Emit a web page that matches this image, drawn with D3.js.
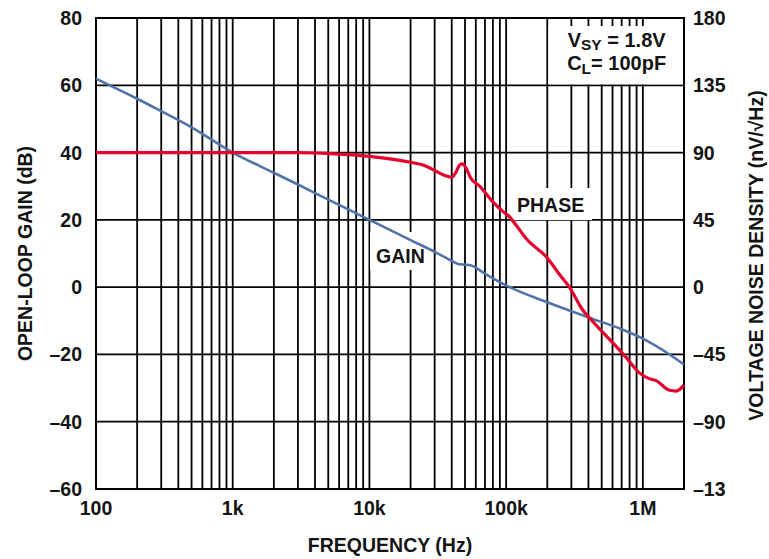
<!DOCTYPE html>
<html>
<head>
<meta charset="utf-8">
<script src="https://cdn.jsdelivr.net/npm/d3@7"></script>
<style>
  html, body { margin: 0; padding: 0; background: #fff; }
  svg { display: block; }
  text { font-family: "Liberation Sans", Arial, sans-serif; font-weight: bold; fill: #141414; }
</style>
</head>
<body>
<script>
// ---- data ----
const freqTicks = [100, 1e3, 1e4, 1e5, 1e6];
const freqTickLabels = ["100", "1k", "10k", "100k", "1M"];
const gainTicks = [80, 60, 40, 20, 0, -20, -40, -60];
const gainTickLabels = ["80", "60", "40", "20", "0", "–20", "–40", "–60"];
const phaseTicks = [180, 135, 90, 45, 0, -45, -90, -135];
const phaseTickLabels = ["180", "135", "90", "45", "0", "–45", "–90", "–13"];

const gainFreq = [100, 150, 200, 300, 500, 1e3, 2e3, 3e3, 5e3, 1e4, 2e4, 3e4, 4e4, 4.5e4, 5e4, 5.5e4, 7e4, 1e5, 2e5, 4e5, 7e5, 1e6, 1.5e6, 2e6];
const gainDb   = [62, 58.5, 56, 52.3, 47.5, 40, 34, 30.5, 26, 20, 14, 10.5, 7.8, 6.8, 6.7, 6.5, 4, 0.5, -4.5, -9, -12.5, -15.3, -19.5, -23];

const phaseFreq = [100, 1e3, 3e3, 6e3, 1e4, 1.5e4, 2e4, 2.5e4, 3e4, 3.6e4, 4e4, 4.3e4, 4.6e4, 4.8e4, 5.1e4, 5.5e4, 6.4e4, 8e4, 9.5e4, 1.06e5, 1.17e5, 1.4e5, 2e5, 2.45e5, 2.9e5, 3.6e5, 4.3e5, 5.65e5, 7.55e5, 9.5e5, 1.1e6, 1.25e6, 1.57e6, 1.75e6, 2e6];
const phaseDeg  = [90, 90, 90, 89, 87.5, 85.5, 83.5, 81.5, 78, 74.5, 73.5, 77, 82, 82.5, 79.5, 73, 67.5, 57, 50.5, 47, 42, 32.5, 19.5, 8.6, 0, -14.8, -23, -34.5, -47, -57.5, -61, -62.5, -69, -69.5, -65.5];

// ---- layout ----
const W = 769, H = 559;
const L = 96, R = 684, T = 18, B = 489;

const svg = d3.select("body").append("svg").attr("width", W).attr("height", H);

const x = d3.scaleLog().domain([100, 2e6]).range([L, R]);
const yG = d3.scaleLinear().domain([-60, 80]).range([B, T]);
const yP = d3.scaleLinear().domain([-135, 180]).range([B, T]);

// grid
const minor = [];
for (let e = 2; e <= 6; e++) for (let k = 1; k <= 9; k++) {
  const v = k * Math.pow(10, e);
  if (v > 100 && v < 2e6) minor.push(v);
}
const grid = svg.append("g").attr("stroke", "#000").attr("stroke-width", 1.8);
grid.selectAll("line.v").data(minor).join("line")
  .attr("x1", d => x(d)).attr("x2", d => x(d)).attr("y1", T).attr("y2", B);
grid.selectAll("line.h").data(gainTicks.filter(d => d > -60 && d < 80)).join("line")
  .attr("x1", L).attr("x2", R).attr("y1", d => yG(d)).attr("y2", d => yG(d));
svg.append("rect").attr("x", L).attr("y", T).attr("width", R - L).attr("height", B - T)
  .attr("fill", "none").attr("stroke", "#000").attr("stroke-width", 2);

// annotation box (white area, leaving short stubs at top)
svg.append("rect")
  .attr("x", x(2e5) + 1).attr("y", T + 8)
  .attr("width", R - x(2e5) - 2).attr("height", yG(60) - T - 9)
  .attr("fill", "#fff");
const ann = svg.append("g").attr("font-size", 20);
const cx = (x(2e5) + R) / 2 + 1;
const t1 = ann.append("text").attr("x", cx).attr("y", 47).attr("text-anchor", "middle");
t1.append("tspan").text("V");
t1.append("tspan").attr("font-size", 15.5).attr("dy", 3).text("SY");
t1.append("tspan").attr("dy", -3).text(" = 1.8V");
const t2 = ann.append("text").attr("x", cx).attr("y", 70).attr("text-anchor", "middle");
t2.append("tspan").text("C");
t2.append("tspan").attr("font-size", 15.5).attr("dy", 4).text("L");
t2.append("tspan").attr("dy", -4).text("= 100pF");

// curve label backgrounds
svg.append("rect").attr("x", 510).attr("y", 188).attr("width", 82).attr("height", 32).attr("fill", "#fff");
svg.append("rect").attr("x", 370).attr("y", 232).attr("width", 60).attr("height", 38).attr("fill", "#fff");

// curves
const lineG = d3.line().x((d, i) => x(gainFreq[i])).y(d => yG(d)).curve(d3.curveMonotoneX);
const lineP = d3.line().x((d, i) => x(phaseFreq[i])).y(d => yP(d)).curve(d3.curveMonotoneX);
svg.append("path").attr("d", lineG(gainDb)).attr("fill", "none")
  .attr("stroke", "#5074a8").attr("stroke-width", 2.6);
svg.append("path").attr("d", lineP(phaseDeg)).attr("fill", "none")
  .attr("stroke", "#e5002d").attr("stroke-width", 3.2);

// curve labels
svg.append("text").attr("x", 517).attr("y", 212).attr("font-size", 19.5).text("PHASE");
svg.append("text").attr("x", 376).attr("y", 263).attr("font-size", 19.5).text("GAIN");

// tick labels
const fs = 19.5;
svg.append("g").selectAll("text").data(gainTicks).join("text")
  .attr("x", 82).attr("y", d => yG(d)).attr("dy", "0.36em")
  .attr("text-anchor", "end").attr("font-size", fs)
  .text((d, i) => gainTickLabels[i]);
svg.append("g").selectAll("text").data(phaseTicks).join("text")
  .attr("x", 693).attr("y", d => yP(d)).attr("dy", "0.36em")
  .attr("text-anchor", "start").attr("font-size", fs)
  .text((d, i) => phaseTickLabels[i]);
svg.append("g").selectAll("text").data(freqTicks).join("text")
  .attr("x", d => x(d)).attr("y", 515)
  .attr("text-anchor", "middle").attr("font-size", fs)
  .text((d, i) => freqTickLabels[i]);

// axis titles
svg.append("text").attr("x", (L + R) / 2).attr("y", 552).attr("text-anchor", "middle")
  .attr("font-size", fs).text("FREQUENCY (Hz)");
svg.append("text").attr("transform", `translate(32,${(T + B) / 2}) rotate(-90)`)
  .attr("text-anchor", "middle").attr("font-size", fs).text("OPEN-LOOP GAIN (dB)");
svg.append("text").attr("transform", `translate(763,${(T + B) / 2 + 2}) rotate(-90)`)
  .attr("text-anchor", "middle").attr("font-size", 19.5).text("VOLTAGE NOISE DENSITY (nV/√Hz)");
</script>
</body>
</html>
